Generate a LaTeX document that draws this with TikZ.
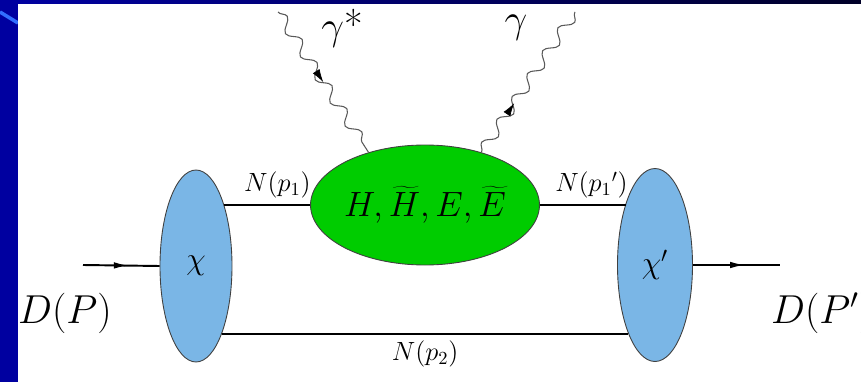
\RequirePackage{fix-cm}
\documentclass[tikz,border=0pt]{standalone}
\usepackage{xcolor}
\definecolor{slideblue}{RGB}{0,0,160}
\definecolor{slidedark}{RGB}{0,0,40}
\definecolor{slideline}{RGB}{50,110,255}
\definecolor{hadblue}{RGB}{122,182,230}
\definecolor{gpdgreen}{RGB}{0,204,0}
\usepackage{tikz}
\usetikzlibrary{shapes.geometric,arrows.meta,decorations.pathmorphing,decorations.markings}
\newcommand{\fsz}[1]{\fontsize{#1}{#1}\selectfont}

\begin{document}
\begin{tikzpicture}[
  blob/.style={draw=black!75, ellipse, inner sep=0pt, line width=0.5pt},
  wf/.style={blob, fill=hadblue, minimum width=1.44cm, minimum height=3.84cm, font=\fsz{18}},
  nline/.style={line width=1.1pt},
  fwd/.style={nline, postaction={decorate, decoration={markings,
      mark=at position 0.6 with {\arrow{Latex[length=3mm, width=1.3mm]}}}}},
  photon/.style={postaction={draw, black!65, line width=0.6pt, decorate,
      decoration={snake, amplitude=1.1mm, segment length=5.5mm}}},
  phtip/.style={postaction={decorate, decoration={markings,
      mark=at position #1 with {\arrow{Latex[length=2.6mm, width=1.6mm]}}}}},
  lbl/.style={font=\fsz{15}}]

  \useasboundingbox (0,0) rectangle (17.22,7.64);

  % --- slide background ---
  \fill[slideblue] (0,0) rectangle (17.22,7.64);
  \draw[slideline, line width=2pt] (0,7.40) -- (0.36,7.18);
  \fill[white] (0.36,0) rectangle (17.22,7.58);
  \shade[left color=slideblue, right color=slidedark] (0.36,7.58) rectangle (17.22,7.64);

  % --- wave functions and GPD blob ---
  \node[wf] (chi) at (3.92,2.32) {$\chi$};
  \node[wf, minimum width=1.50cm, minimum height=3.86cm] (chip) at (13.10,2.34) {$\chi'$};
  \node[blob, fill=gpdgreen, minimum width=4.16cm, minimum height=2.40cm, font=\fsz{20}] (gpd) at (8.50,3.54)
    {$H,\widetilde{H},E,\widetilde{E}$};

  % --- free ends ---
  \coordinate (din)  at (1.66,2.34);
  \coordinate (dout) at (15.60,2.34);
  \coordinate (gsq)  at (5.56,7.40);
  \coordinate (gre)  at (11.50,7.40);

  % --- outer labels ---
  \node[font=\fsz{23}, anchor=base] (dp) at (1.30,1.18) {$D(P)$};
  \node[font=\fsz{23}, anchor=base west] (dpp) at (15.30,1.18) {$D(P')$};
  \node[font=\fsz{23}] (gsl) at (6.84,7.08) {$\gamma$*};
  \node[font=\fsz{23}] (gl)  at (10.32,7.08) {$\gamma$};

  % --- lines ---
  \draw[fwd] (din) -- (chi.west);
  \draw[fwd] (chip.east) -- (dout);
  \draw[nline] (chi.65 |- gpd.west) -- node[lbl, above, pos=0.62] {$N(p_1)$} (gpd.west);
  \draw[nline] (gpd.east) -- node[lbl, above, pos=0.6] {$N(p_1{}')$} (gpd.east -| chip.115);
  \draw[nline] (chi.-69) -- node[lbl, below] {$N(p_2)$} (chi.-69 -| chip.-111);
  \path[photon, phtip=0.5] (gsq) -- (gpd.137);
  \path[photon, phtip=0.35] (gpd.43) -- (gre);
\end{tikzpicture}
\end{document}
